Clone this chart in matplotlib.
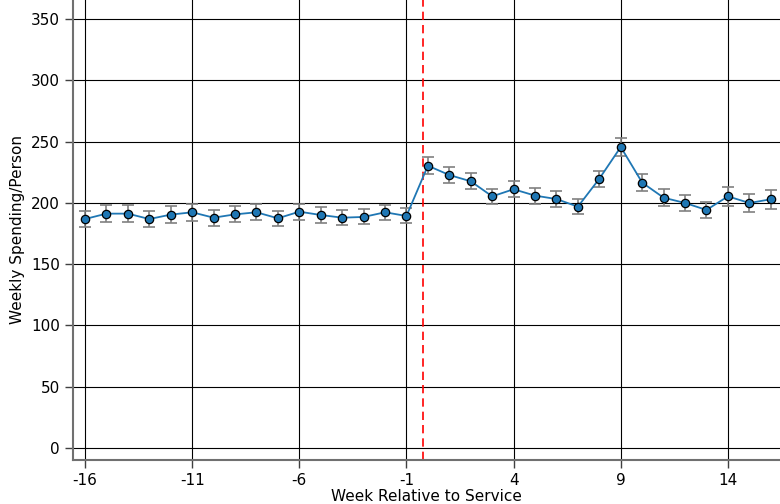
import matplotlib
matplotlib.use("Agg")
import matplotlib.pyplot as plt
import numpy as np

weeks = list(range(-16, 17))
spending = [186.8, 191.2, 191.2, 186.8, 190.4, 192.3, 187.9, 190.6, 192.3, 187.4,
            192.8, 190.1, 187.9, 188.5, 192.3, 189.3,
            230.3, 222.7, 217.6, 205.3, 211.1, 205.9, 203.1, 196.9, 219.7, 245.6,
            216.5, 204.2, 199.9, 194.2, 205.3, 199.9, 202.9]
errors = [6.9, 6.9, 6.9, 6.8, 6.7, 6.8, 6.5, 6.5, 6.5, 6.1, 6.4, 6.3, 6.3, 6.1, 6.3, 6.1,
          6.8, 6.5, 6.5, 6.4, 6.5, 6.5, 6.7, 6.4, 6.4, 7.0, 6.9, 6.8, 6.9, 6.9, 7.6, 7.3, 7.6]
xticks = [-16, -11, -6, -1, 4, 9, 14]
yticks = [0, 50, 100, 150, 200, 250, 300, 350]
service_line = -0.25

fig = plt.figure(figsize=(7.8, 5.04), dpi=100)
ax = fig.add_axes([73/780, 44/504, (780-73)/780, 460/504])

ax.errorbar(weeks, spending, yerr=errors, fmt='none', ecolor='gray', elinewidth=1.2,
            capsize=4, capthick=1.2, zorder=3)
ax.plot(weeks, spending, color='#1f77b4', lw=1.3, marker='o', markersize=6,
        markerfacecolor='#1f77b4', markeredgecolor='black', markeredgewidth=0.9, zorder=4)
ax.axvline(service_line, color='red', ls=(0, (5, 3)), lw=1.2, zorder=2)

ax.set_xticks(xticks)
ax.set_xticklabels([str(t) for t in xticks])
ax.set_yticks(yticks)
ax.grid(True, color='black', lw=0.8)
ax.set_axisbelow(True)
ax.set_xlim(-16.56, 16.43)
ax.set_ylim(-9.8, 365.5)

for s in ['top', 'right']:
    ax.spines[s].set_visible(False)
for s in ['left', 'bottom']:
    ax.spines[s].set_color('#707070')
    ax.spines[s].set_linewidth(1.5)
ax.tick_params(axis='both', labelsize=11, length=6, width=1, color='#404040')

ax.set_xlabel('Week Relative to Service', fontsize=11, labelpad=0.5)
ax.set_ylabel('Weekly Spending/Person', fontsize=11)

fig.savefig('out.png', dpi=100)
